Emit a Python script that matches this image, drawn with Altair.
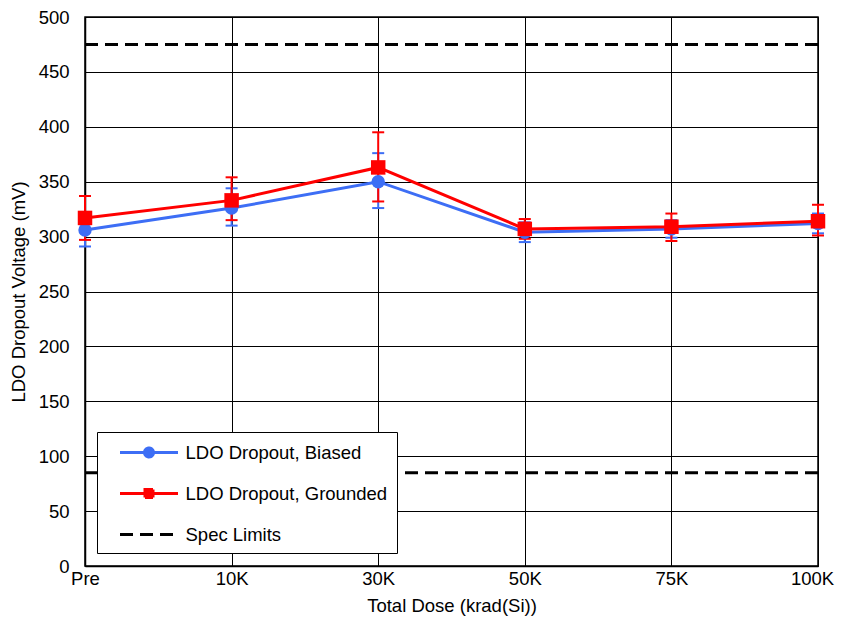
import altair as alt
import pandas as pd

doses = ["Pre", "10K", "30K", "50K", "75K", "100K"]
biased = [306, 326, 350, 304, 307, 312]
biased_lo = [291, 310, 326, 295, 299, 303]
biased_hi = [321, 344, 376, 313, 315, 321]
grounded = [317, 333, 363, 307, 309, 314]
grounded_lo = [297, 315, 332, 298, 296, 301]
grounded_hi = [337, 354, 395, 316, 321, 329]
spec_limits = [475, 85]

series_names = ["LDO Dropout, Biased", "LDO Dropout, Grounded", "Spec Limits"]
BLUE = "#3D6EF5"
RED = "#FF0000"
colors = [BLUE, RED, "#000000"]
FONT = "Liberation Sans"

def series_df(name, vals, los, his):
    return pd.DataFrame({"dose": doses, "series": name, "value": vals, "lo": los, "hi": his})

df_b = series_df(series_names[0], biased, biased_lo, biased_hi)
df_g = series_df(series_names[1], grounded, grounded_lo, grounded_hi)
spec_df = pd.DataFrame({"series": [series_names[2]] * len(spec_limits), "value": spec_limits})
legend_df = pd.DataFrame({"series": series_names})

x_enc = alt.X(
    "dose:N", sort=doses,
    scale=alt.Scale(type="point", padding=0, domain=doses),
    axis=alt.Axis(title="Total Dose (krad(Si))", labelAngle=0, ticks=False, labelPadding=3,
                  labelOffset={"condition": {"test": "datum.value === '100K'", "value": -6}, "value": 0},
                  titlePadding=9, grid=True, gridColor="black", gridOpacity=1, gridWidth=1,
                  domainColor="black", domainWidth=1.5),
)
y_scale = alt.Scale(domain=[0, 500], nice=False, zero=True)
y_axis = alt.Axis(title="LDO Dropout Voltage (mV)", values=list(range(0, 501, 50)), ticks=False,
                  labelPadding=16, titlePadding=10, grid=True, gridColor="black", gridOpacity=1,
                  gridWidth=1, domainColor="black", domainWidth=1.5)

def errbars(d, color):
    base = alt.Chart(d)
    rule = base.mark_rule(color=color, strokeWidth=2).encode(
        x=x_enc, y=alt.Y("lo:Q", scale=y_scale, axis=y_axis), y2="hi:Q")
    tlo = base.mark_tick(color=color, thickness=2, size=12, opacity=1).encode(
        x=x_enc, y=alt.Y("lo:Q", scale=y_scale, axis=y_axis))
    thi = base.mark_tick(color=color, thickness=2, size=12, opacity=1).encode(
        x=x_enc, y=alt.Y("hi:Q", scale=y_scale, axis=y_axis))
    return [rule, tlo, thi]

def line(d, color):
    return alt.Chart(d).mark_line(color=color, strokeWidth=3).encode(
        x=x_enc, y=alt.Y("value:Q", scale=y_scale, axis=y_axis))

def points(d, color, shape, size):
    return alt.Chart(d).mark_point(color=color, filled=True, shape=shape, size=size, opacity=1).encode(
        x=x_enc, y=alt.Y("value:Q", scale=y_scale, axis=y_axis))

spec = alt.Chart(spec_df).mark_rule(color="black", strokeWidth=3, strokeDash=[13, 7]).encode(
    y=alt.Y("value:Q", scale=y_scale, axis=y_axis))

shape_paths = [
    "M-2.9,0L2.9,0M0.45,0A0.45,0.45,0,1,1,-0.45,0A0.45,0.45,0,1,1,0.45,0Z",
    "M-2.9,0L2.9,0M-0.4,-0.4L0.4,-0.4L0.4,0.4L-0.4,0.4Z",
    "M-2.9,0L2.9,0",
]

leg = alt.Legend(title=None, orient="none", legendX=12, legendY=415, padding=9, rowPadding=19,
                 symbolOffset=31.5, labelOffset=25, symbolSize=400, symbolStrokeWidth=3,
                 labelFontSize=18.5, labelFont=FONT, labelColor="black", labelLimit=500,
                 fillColor="white", strokeColor="black", cornerRadius=0, symbolOpacity=1)

legend_layer = alt.Chart(legend_df).transform_filter("false").mark_point(
    filled=True, size=400, strokeWidth=3, opacity=1).encode(
    shape=alt.Shape("series:N", scale=alt.Scale(domain=series_names, range=shape_paths), legend=leg),
    fill=alt.Fill("series:N", scale=alt.Scale(domain=series_names, range=colors), legend=leg),
    stroke=alt.Stroke("series:N", scale=alt.Scale(domain=series_names, range=colors), legend=leg),
    strokeDash=alt.StrokeDash("series:N", scale=alt.Scale(domain=series_names,
                                                          range=[[1, 0], [1, 0], [13, 7]]), legend=leg),
)

layers = (errbars(df_b, BLUE) + errbars(df_g, RED) + [spec, line(df_b, BLUE), line(df_g, RED),
          points(df_b, BLUE, "circle", 180), points(df_g, RED, "square", 210), legend_layer])

chart = alt.layer(*layers).properties(
    width=733, height=549,
    padding={"left": 77, "top": 9, "right": 17, "bottom": 50},
    autosize=alt.AutoSizeParams(type="none"),
).configure_view(stroke="black", strokeWidth=1.5).configure_axis(
    labelFont=FONT, titleFont=FONT, labelFontSize=18.5, titleFontSize=18.5,
    labelColor="black", titleColor="black", titleFontWeight="normal",
)

chart.save("out.html", embed_options={"renderer": "svg", "actions": False})
